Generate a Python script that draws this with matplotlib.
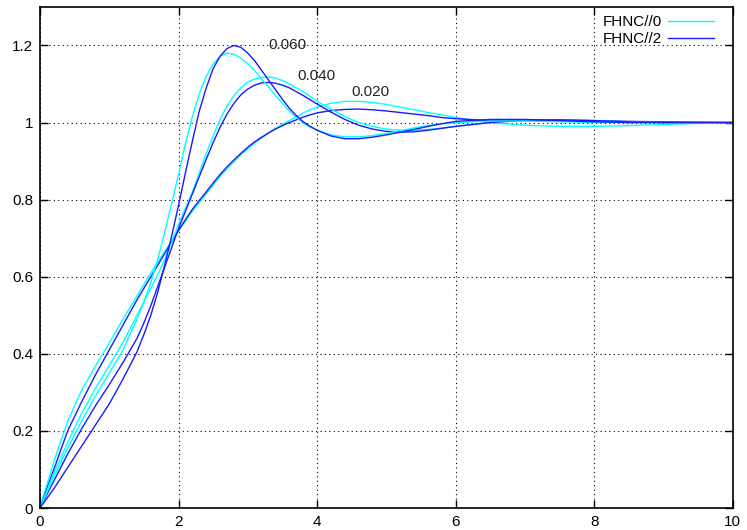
import matplotlib
matplotlib.use("Agg")
import matplotlib.pyplot as plt

plt.rcParams['font.family'] = ['Liberation Sans', 'DejaVu Sans']

# sample positions: finer around the peaks
x = [0.0, 0.2, 0.4, 0.6, 0.8, 1.0, 1.2,
     1.4, 1.5, 1.6, 1.7, 1.8, 1.9, 2.0, 2.1, 2.2, 2.3, 2.4, 2.5, 2.6, 2.7, 2.8, 2.9,
     3.0, 3.1, 3.2, 3.3, 3.4, 3.5, 3.6, 3.7, 3.8, 3.9, 4.0,
     4.2, 4.4, 4.6, 4.8, 5.0, 5.2, 5.4, 5.6, 5.8, 6.0,
     6.5, 7.0, 7.5, 8.0, 8.5, 9.0, 9.5, 10.0]

# FHNC//0 (cyan)
c_020 = [0, 0.12, 0.225, 0.305, 0.368, 0.428, 0.49,
         0.55, 0.58, 0.61, 0.638, 0.665, 0.693, 0.72, 0.745, 0.77, 0.793, 0.815, 0.838, 0.86, 0.88, 0.898, 0.916,
         0.932, 0.947, 0.96, 0.973, 0.985, 0.995, 1.005, 1.015, 1.025, 1.033, 1.04,
         1.05, 1.055, 1.055, 1.052, 1.047, 1.04, 1.033, 1.026, 1.02, 1.013,
         1.0, 0.993, 0.99, 0.99, 0.992, 0.995, 0.998, 1.0]
c_040 = [0, 0.09, 0.17, 0.245, 0.31, 0.37, 0.43,
         0.50, 0.535, 0.57, 0.605, 0.645, 0.69, 0.735, 0.778, 0.82, 0.87, 0.92, 0.965, 1.008, 1.043, 1.07, 1.09,
         1.105, 1.113, 1.117, 1.118, 1.115, 1.109, 1.10, 1.09, 1.08, 1.068, 1.055,
         1.035, 1.015, 1.0, 0.99, 0.983, 0.98, 0.98, 0.982, 0.986, 0.99,
         1.0, 1.006, 1.007, 1.005, 1.002, 1.0, 1.0, 1.0]
c_060 = [0, 0.08, 0.155, 0.225, 0.29, 0.35, 0.41,
         0.49, 0.535, 0.585, 0.645, 0.715, 0.79, 0.865, 0.945, 1.015, 1.075, 1.12, 1.152, 1.172, 1.18, 1.177, 1.167,
         1.152, 1.134, 1.113, 1.092, 1.07, 1.05, 1.03, 1.013, 0.998, 0.988, 0.98,
         0.968, 0.963, 0.963, 0.966, 0.972, 0.979, 0.986, 0.992, 0.997, 1.0,
         1.004, 1.004, 1.002, 1.0, 1.0, 1.0, 1.0, 1.0]

# FHNC//2 (blue)
b_020 = [0, 0.10, 0.20, 0.275, 0.345, 0.41, 0.475,
         0.54, 0.57, 0.60, 0.63, 0.66, 0.69, 0.72, 0.748, 0.775, 0.798, 0.82, 0.843, 0.865, 0.885, 0.903, 0.92,
         0.936, 0.95, 0.962, 0.973, 0.983, 0.992, 1.0, 1.007, 1.014, 1.02, 1.025,
         1.031, 1.034, 1.035, 1.033, 1.03, 1.026, 1.022, 1.018, 1.013, 1.01,
         1.005, 1.005, 1.006, 1.005, 1.003, 1.002, 1.001, 1.0]
b_040 = [0, 0.07, 0.14, 0.205, 0.265, 0.32, 0.378,
         0.44, 0.48, 0.525, 0.575, 0.625, 0.675, 0.725, 0.77, 0.815, 0.86, 0.905, 0.948, 0.988, 1.022, 1.05, 1.072,
         1.087, 1.097, 1.103, 1.104, 1.102, 1.097, 1.09, 1.08, 1.07, 1.059, 1.048,
         1.027, 1.008, 0.993, 0.983, 0.977, 0.975, 0.976, 0.98, 0.985, 0.99,
         1.0, 1.006, 1.007, 1.005, 1.002, 1.0, 1.0, 1.0]
b_060 = [0, 0.05, 0.105, 0.16, 0.215, 0.27, 0.335,
         0.405, 0.45, 0.50, 0.56, 0.63, 0.705, 0.785, 0.87, 0.952, 1.03, 1.09, 1.14, 1.172, 1.192, 1.2, 1.195,
         1.18, 1.16, 1.135, 1.11, 1.085, 1.06, 1.037, 1.018, 1.002, 0.99, 0.98,
         0.965, 0.958, 0.958, 0.962, 0.968, 0.975, 0.982, 0.99, 0.997, 1.003,
         1.008, 1.008, 1.005, 1.002, 1.0, 1.0, 1.0, 1.0]

labels = ['0.060', '0.040', '0.020']
label_pos = [(3.30, 1.20), (3.71, 1.12), (4.50, 1.078)]

fig = plt.figure(figsize=(7.47, 5.30), dpi=100)
ax = fig.add_axes([0.0535, 0.0415, 0.9275, 0.9455])

cyan = '#00ffff'
blue = '#1a1aff'
ax.plot(x, c_020, color=cyan, lw=1.0, label='FHNC//0')
ax.plot(x, b_020, color=blue, lw=1.0, label='FHNC//2')
ax.plot(x, c_040, color=cyan, lw=1.0)
ax.plot(x, b_040, color=blue, lw=1.0)
ax.plot(x, c_060, color=cyan, lw=1.0)
ax.plot(x, b_060, color=blue, lw=1.0)

for txt, (tx, ty) in zip(labels, label_pos):
    ax.text(tx, ty, txt, fontsize=11, va='center', ha='left', color='#222222')

ax.set_xlim(0, 10)
ax.set_ylim(0, 1.3)
ax.set_xticks([0, 2, 4, 6, 8, 10])
ax.set_xticklabels(['0', '2', '4', '6', '8', '10'])
ax.set_yticks([0, 0.2, 0.4, 0.6, 0.8, 1.0, 1.2])
ax.set_yticklabels(['0', '0.2', '0.4', '0.6', '0.8', '1', '1.2'])
ax.tick_params(direction='in', top=True, right=True, length=6, width=1.0,
               labelsize=11, pad=5)
ax.grid(True, color='black', linestyle=(0, (1, 3)), linewidth=0.8)
for s in ax.spines.values():
    s.set_linewidth(1.2)

ax.legend(loc='upper right', frameon=False, markerfirst=False, fontsize=11,
          handlelength=3.0, handletextpad=0.4, borderaxespad=0.15, labelspacing=0.2,
          bbox_to_anchor=(0.985, 1.0))

fig.savefig('out.png', dpi=100)
